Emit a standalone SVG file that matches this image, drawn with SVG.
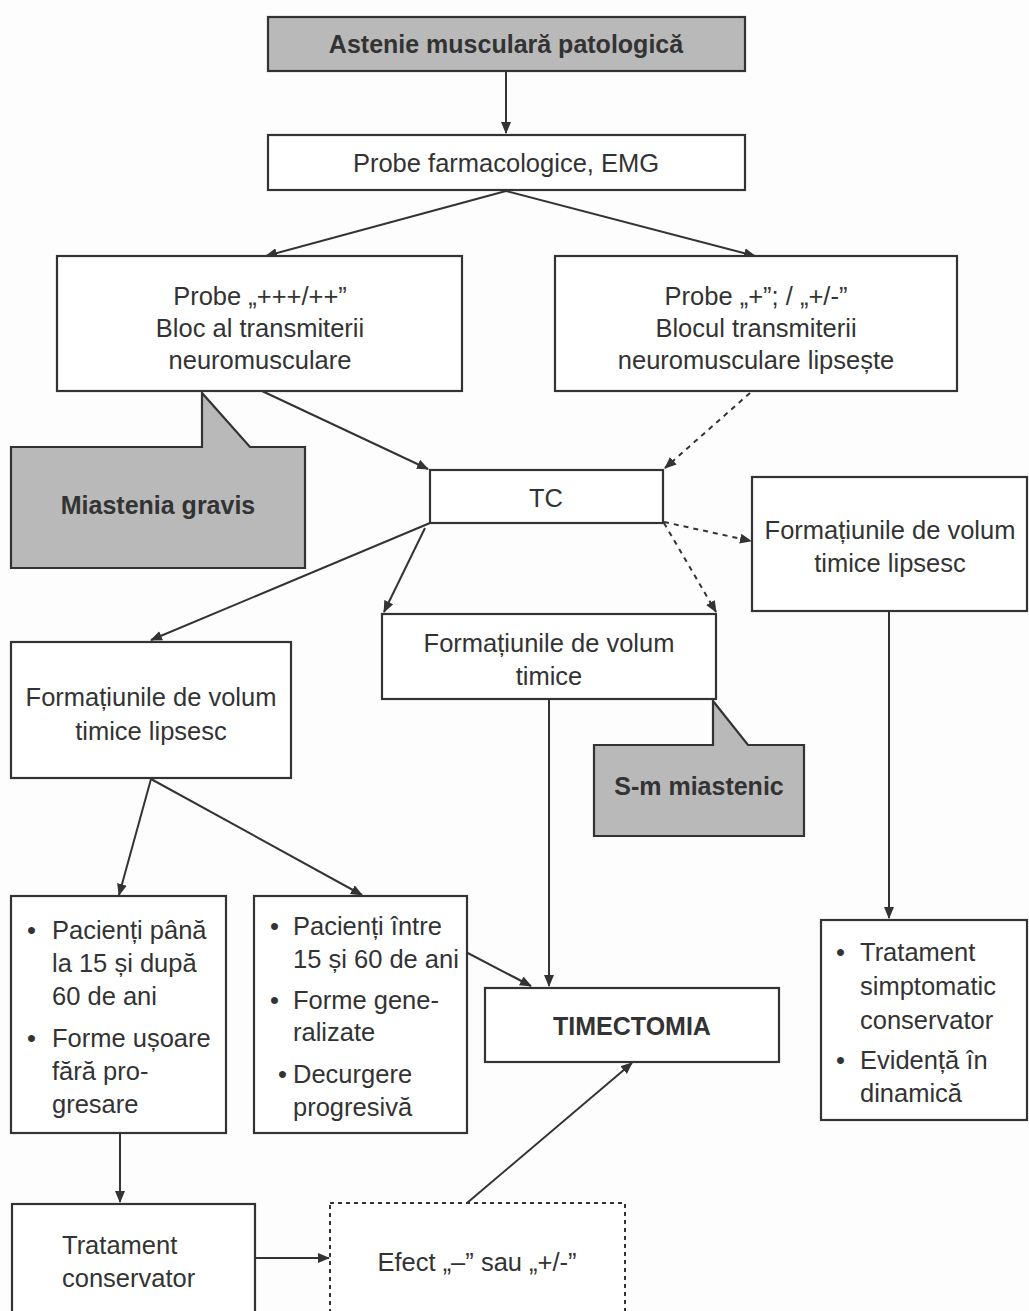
<svg xmlns="http://www.w3.org/2000/svg" width="1029" height="1311" viewBox="0 0 1029 1311">
<defs>
<marker id="ah" markerWidth="12" markerHeight="10" refX="11" refY="5" orient="auto" markerUnits="userSpaceOnUse">
<path d="M0,0 L12,5 L0,10 Z" fill="#333"/>
</marker>
<style>
.box{fill:#fff;stroke:#333;stroke-width:2.2}
.gray{fill:#b9b9b9;stroke:#333;stroke-width:2.2}
.dbox{fill:#fff;stroke:#333;stroke-width:2;stroke-dasharray:4 4}
text{font-family:"Liberation Sans",Arial,sans-serif;font-size:25.5px;fill:#333}
.c{text-anchor:middle}
.b{font-weight:bold;font-size:25px}
.ln{stroke:#333;stroke-width:2;fill:none;marker-end:url(#ah)}
.dl{stroke:#333;stroke-width:2;fill:none;stroke-dasharray:5 5;marker-end:url(#ah)}
</style>
</defs>
<rect width="1029" height="1311" fill="#fdfdfd"/>
<g id="connectors">
<line class="ln" x1="506" y1="71" x2="506" y2="133"/>
<line class="ln" x1="506" y1="191" x2="266" y2="256"/>
<line class="ln" x1="506" y1="191" x2="755" y2="256"/>
<line class="ln" x1="262" y1="391" x2="428" y2="469"/>
<line class="dl" x1="750" y1="393" x2="665" y2="468"/>
<line class="dl" x1="664" y1="522" x2="751" y2="541"/>
<line class="dl" x1="664" y1="523" x2="716" y2="612"/>
<line class="ln" x1="430" y1="523" x2="151" y2="640"/>
<line class="ln" x1="425" y1="528" x2="384" y2="612"/>
<line class="ln" x1="151" y1="779" x2="119" y2="895"/>
<line class="ln" x1="151" y1="779" x2="362" y2="895"/>
<line class="ln" x1="549" y1="700" x2="549" y2="986"/>
<line class="ln" x1="889" y1="612" x2="889" y2="918"/>
<line class="ln" x1="462" y1="950" x2="531" y2="986"/>
<line class="ln" x1="120" y1="1134" x2="120" y2="1202"/>
<line class="ln" x1="256" y1="1258" x2="329" y2="1258"/>
<line class="ln" x1="467" y1="1203" x2="632" y2="1063"/>
</g>
<g id="n1">
<rect class="gray" x="268" y="17" width="477" height="54"/>
<text class="c b" x="506" y="53">Astenie musculară patologică</text>
</g>
<g id="n2">
<rect class="box" x="268" y="135" width="477" height="55"/>
<text class="c" x="506" y="172">Probe farmacologice, EMG</text>
</g>
<g id="n3">
<rect class="box" x="57" y="256" width="405" height="135"/>
<text class="c" x="260" y="305">Probe „+++/++”</text>
<text class="c" x="260" y="337">Bloc al transmiterii</text>
<text class="c" x="260" y="369">neuromusculare</text>
</g>
<g id="n4">
<rect class="box" x="555" y="256" width="402" height="135"/>
<text class="c" x="756" y="305">Probe „+”; / „+/-”</text>
<text class="c" x="756" y="337">Blocul transmiterii</text>
<text class="c" x="756" y="369">neuromusculare lipsește</text>
</g>
<g id="n5">
<path class="gray" d="M11,447 L202,447 L202,393 L250,447 L305,447 L305,568 L11,568 Z"/>
<text class="c b" x="158" y="514">Miastenia gravis</text>
</g>
<g id="n6">
<rect class="box" x="430" y="470" width="233" height="53"/>
<text class="c" x="546" y="507">TC</text>
</g>
<g id="n7">
<rect class="box" x="752" y="477" width="275" height="134"/>
<text class="c" x="890" y="539">Formațiunile de volum</text>
<text class="c" x="890" y="572">timice lipsesc</text>
</g>
<g id="n8">
<rect class="box" x="382" y="614" width="334" height="85"/>
<text class="c" x="549" y="652">Formațiunile de volum</text>
<text class="c" x="549" y="685">timice</text>
</g>
<g id="n9">
<path class="gray" d="M594,745 L713,745 L713,701 L748,745 L804,745 L804,836 L594,836 Z"/>
<text class="c b" x="699" y="795">S-m miastenic</text>
</g>
<g id="n10">
<rect class="box" x="11" y="642" width="280" height="136"/>
<text class="c" x="151" y="706">Formațiunile de volum</text>
<text class="c" x="151" y="740">timice lipsesc</text>
</g>
<g id="n11">
<rect class="box" x="11" y="896" width="215" height="237"/>
<text x="27" y="939">•</text><text x="52" y="939">Pacienți până</text>
<text x="52" y="972">la 15 și după</text>
<text x="52" y="1005">60 de ani</text>
<text x="27" y="1047">•</text><text x="52" y="1047">Forme ușoare</text>
<text x="52" y="1080">fără pro-</text>
<text x="52" y="1113">gresare</text>
</g>
<g id="n12">
<rect class="box" x="254" y="896" width="213" height="237"/>
<text x="270" y="935">•</text><text x="293" y="935">Pacienți între</text>
<text x="293" y="968">15 și 60 de ani</text>
<text x="270" y="1009">•</text><text x="293" y="1009">Forme gene-</text>
<text x="293" y="1041">ralizate</text>
<text x="278" y="1083">•</text><text x="293" y="1083">Decurgere</text>
<text x="293" y="1116">progresivă</text>
</g>
<g id="n13">
<rect class="box" x="485" y="988" width="294" height="74"/>
<text class="c b" x="632" y="1035">TIMECTOMIA</text>
</g>
<g id="n14">
<rect class="box" x="821" y="920" width="206" height="200"/>
<text x="836" y="961">•</text><text x="860" y="961">Tratament</text>
<text x="860" y="995">simptomatic</text>
<text x="860" y="1029">conservator</text>
<text x="836" y="1069">•</text><text x="860" y="1069">Evidență în</text>
<text x="860" y="1102">dinamică</text>
</g>
<g id="n15">
<rect class="box" x="12" y="1204" width="243" height="120"/>
<text x="62" y="1254">Tratament</text>
<text x="62" y="1287">conservator</text>
</g>
<g id="n16">
<rect class="dbox" x="330" y="1203" width="295" height="120"/>
<text class="c" x="477" y="1271">Efect „–” sau „+/-”</text>
</g>
</svg>
